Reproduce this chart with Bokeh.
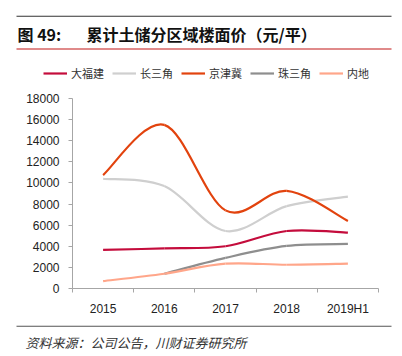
import numpy as np
from bokeh.plotting import figure
from bokeh.layouts import column
from bokeh.models import (Range1d, FixedTicker, Legend, LegendItem, Label, BoxAnnotation)
from bokeh.embed import file_html
from bokeh.resources import INLINE

categories = ["2015", "2016", "2017", "2018", "2019H1"]
series_names = ["大福建", "长三角", "京津冀", "珠三角", "内地"]
dafujian = [3650, 3800, 4000, 5450, 5300]
changsanjiao = [10400, 9700, 5450, 7800, 8700]
jingjinji = [10750, 15500, 7400, 9250, 6400]
zhusanjiao = [None, 1400, 2900, 4030, 4220]
neidi = [700, 1400, 2350, 2250, 2350]
colors = ["#C40C3C", "#CFCFCF", "#E2430E", "#8E8E8E", "#FFA68A"]
y_ticks = list(range(0, 18001, 2000))

title_no = "图 49:"
title_text = "累计土储分区域楼面价（元/平）"
source_text = "资料来源：公司公告，川财证券研究所"

CJK = "Noto Sans CJK SC"
W = 402
H_HEAD = 88
H_MAIN = 230
H_FOOT = 38
all_series = [dafujian, changsanjiao, jingjinji, zhusanjiao, neidi]
idx = list(range(len(categories)))


def blank_fig(h):
    f = figure(width=W, height=h, output_backend="svg", toolbar_location=None,
               x_range=Range1d(0, 1), y_range=Range1d(0, 1),
               min_border=0, x_axis_type=None, y_axis_type=None, frame_align=False)
    f.outline_line_color = None
    f.xgrid.visible = False
    f.ygrid.visible = False
    return f


def hbar(f, y_top, thick, color):
    f.add_layout(BoxAnnotation(left=16, right=391, top=y_top, bottom=y_top - thick,
                               left_units="screen", right_units="screen",
                               top_units="screen", bottom_units="screen",
                               fill_color=color, fill_alpha=1, line_alpha=0))


# ---------- header: title, rules, legend ----------
head = blank_fig(H_HEAD)
hbar(head, H_HEAD - 15.2, 1, "#333333")
hbar(head, H_HEAD - 47.6, 2, "#E08A8A")
head.add_layout(Label(x=17, y=H_HEAD - 33, x_units="screen", y_units="screen", text=title_no,
                      text_font=CJK, text_font_style="bold", text_font_size="16px",
                      text_color="#111111", text_baseline="middle"))
head.add_layout(Label(x=86, y=H_HEAD - 33, x_units="screen", y_units="screen", text=title_text,
                      text_font=CJK, text_font_style="bold", text_font_size="16px",
                      text_color="#111111", text_baseline="middle"))
items = []
for name, vals, col in zip(series_names, all_series, colors):
    # legend proxies: the real series, lying outside this header's (empty) view
    r = head.line(x=idx, y=[np.nan if v is None else v for v in vals], line_color=col, line_width=2.2)
    items.append(LegendItem(label=name, renderers=[r]))
legend = Legend(items=items, orientation="horizontal", location=(43, H_HEAD - 81),
                glyph_width=24, glyph_height=14, label_standoff=4, spacing=8,
                padding=0, margin=0, border_line_color=None, background_fill_alpha=0,
                label_text_font=CJK, label_text_font_size="11px", label_text_color="#333333",
                label_height=14)
head.add_layout(legend, "center")

# ---------- main chart ----------
p = figure(width=W, height=H_MAIN, output_backend="svg", toolbar_location=None,
           x_range=Range1d(-0.5, 4.5), y_range=Range1d(0, 18000), frame_align=False,
           min_border_left=72, min_border_right=24, min_border_top=10, min_border_bottom=29)
p.outline_line_color = None
p.xgrid.visible = False
p.ygrid.visible = False

p.xaxis.ticker = FixedTicker(ticks=idx, minor_ticks=[i - 0.5 for i in range(len(categories) + 1)])
p.xaxis.major_label_overrides = {i: c for i, c in enumerate(categories)}
p.xaxis.major_tick_out = 0
p.xaxis.major_tick_in = 0
p.xaxis.minor_tick_out = 4
p.xaxis.minor_tick_in = 0
p.xaxis.minor_tick_line_color = "#A6A6A6"
p.xaxis.axis_line_color = "#A6A6A6"
p.xaxis.major_label_standoff = 9
p.xaxis.major_label_text_font = "Liberation Sans"
p.xaxis.major_label_text_font_size = "12px"
p.xaxis.major_label_text_color = "#222222"

p.yaxis.ticker = FixedTicker(ticks=y_ticks, minor_ticks=[])
p.yaxis.major_tick_out = 4
p.yaxis.major_tick_in = 0
p.yaxis.major_tick_line_color = "#A6A6A6"
p.yaxis.axis_line_color = "#A6A6A6"
p.yaxis.major_label_standoff = 9
p.yaxis.major_label_text_font = "Liberation Sans"
p.yaxis.major_label_text_font_size = "12px"
p.yaxis.major_label_text_color = "#222222"


def smooth_segments(xs, ys):
    pts = [(x, y) for x, y in zip(xs, ys) if y is not None]
    n = len(pts)
    d = dict(x0=[], y0=[], x1=[], y1=[], cx0=[], cy0=[], cx1=[], cy1=[])
    for i in range(n - 1):
        pm = pts[max(i - 1, 0)]
        a = pts[i]
        b = pts[i + 1]
        pn = pts[min(i + 2, n - 1)]
        d["x0"].append(a[0]); d["y0"].append(a[1])
        d["x1"].append(b[0]); d["y1"].append(b[1])
        d["cx0"].append(a[0] + (b[0] - pm[0]) / 6.0)
        d["cy0"].append(a[1] + (b[1] - pm[1]) / 6.0)
        d["cx1"].append(b[0] - (pn[0] - a[0]) / 6.0)
        d["cy1"].append(b[1] - (pn[1] - a[1]) / 6.0)
    return d


for name, vals, col in zip(series_names, all_series, colors):
    seg = smooth_segments(idx, vals)
    p.bezier(x0="x0", y0="y0", x1="x1", y1="y1", cx0="cx0", cy0="cy0", cx1="cx1", cy1="cy1",
             source=seg, line_color=col, line_width=2.2)

# ---------- footer ----------
foot = blank_fig(H_FOOT)
hbar(foot, H_FOOT - 7.2, 1, "#555555")
foot.add_layout(Label(x=25, y=H_FOOT - 24, x_units="screen", y_units="screen", text=source_text,
                      text_font=CJK, text_font_style="italic", text_font_size="13px",
                      text_color="#333333", text_baseline="middle"))

layout = column(head, p, foot, spacing=0)
open("out.html", "w").write(file_html(layout, INLINE))
